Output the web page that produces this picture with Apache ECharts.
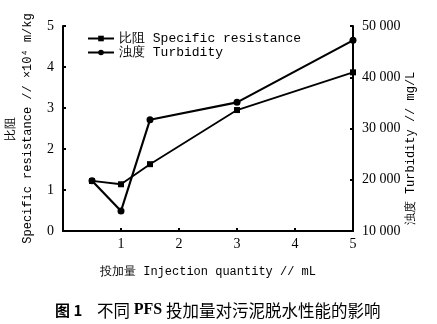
<!DOCTYPE html>
<html><head><meta charset="utf-8">
<script src="https://cdn.jsdelivr.net/npm/echarts@6/dist/echarts.min.js"></script>
<style>html,body{margin:0;padding:0;background:#fff}#c{width:437px;height:324px}</style>
</head><body><div id="c"></div>
<script>
const dose = [0.5, 1, 1.5, 3, 5];
const specificResistance = [1.22, 1.14, 1.63, 2.95, 3.87];
const turbidity = [19800, 13900, 31700, 35100, 47200];
const xTicks = [1, 2, 3, 4, 5];
const leftTicks = [0, 1, 2, 3, 4, 5];
const rightTicks = [10000, 20000, 30000, 40000, 50000];

const mono = "'Liberation Mono', monospace";
const serif = "'Liberation Serif', serif";
const chart = echarts.init(document.getElementById('c'), null, {renderer: 'canvas'});
const fmtK = v => { const s = String(v); return s.slice(0, s.length - 3) + ' ' + s.slice(-3); };

chart.setOption({
  animation: false,
  backgroundColor: '#fff',
  grid: {left: 63, right: 84, top: 26, bottom: 93, containLabel: false, outerBoundsMode: 'none'},
  legend: {
    orient: 'vertical', left: 82, top: 27, itemWidth: 26, itemHeight: 7, itemGap: 1,
    textStyle: {fontFamily: mono, fontSize: 13, color: '#000', lineHeight: 13},
    data: ['比阻 Specific resistance', '浊度 Turbidity']
  },
  xAxis: {
    type: 'value', min: 0, max: 5, interval: 1,
    name: '投加量 Injection quantity // mL', nameLocation: 'middle', nameGap: 35,
    nameTextStyle: {fontFamily: mono, fontSize: 12, color: '#000'},
    axisLine: {show: true, lineStyle: {color: '#000', width: 2}},
    axisTick: {show: true, inside: true, length: 3, lineStyle: {color: '#000', width: 2}},
    axisLabel: {color: '#000', fontFamily: serif, fontSize: 14, margin: 6,
      formatter: v => xTicks.includes(v) ? String(v) : ''},
    splitLine: {show: false}
  },
  yAxis: [{
    type: 'value', min: leftTicks[0], max: leftTicks[leftTicks.length - 1], interval: 1,
    position: 'left',
    name: '比阻\nSpecific resistance // ×10⁴ m/kg', nameLocation: 'middle', nameGap: 27, nameRotate: 90,
    nameMoveOverlap: false,
    nameTextStyle: {fontFamily: mono, fontSize: 12, color: '#000', lineHeight: 17},
    axisLine: {show: true, lineStyle: {color: '#000', width: 2}},
    axisTick: {show: true, inside: true, length: 3, lineStyle: {color: '#000', width: 2}},
    axisLabel: {color: '#000', fontFamily: serif, fontSize: 14, margin: 9},
    splitLine: {show: false}
  }, {
    type: 'value', min: rightTicks[0], max: rightTicks[rightTicks.length - 1], interval: 10000,
    position: 'right',
    name: '浊度 Turbidity // mg/L', nameLocation: 'middle', nameGap: 52, nameRotate: 90,
    nameMoveOverlap: false,
    nameTextStyle: {fontFamily: mono, fontSize: 12, color: '#000', padding: [0, 40, 0, 0]},
    axisLine: {show: true, lineStyle: {color: '#000', width: 2}},
    axisTick: {show: true, inside: true, length: 3, lineStyle: {color: '#000', width: 2}},
    axisLabel: {color: '#000', fontFamily: serif, fontSize: 14, margin: 9, formatter: fmtK},
    splitLine: {show: false}
  }],
  series: [{
    name: '比阻 Specific resistance', type: 'line', yAxisIndex: 0,
    data: dose.map((x, i) => [x, specificResistance[i]]),
    symbol: 'rect', symbolSize: 6,
    lineStyle: {color: '#000', width: 1.8},
    itemStyle: {color: '#000'}
  }, {
    name: '浊度 Turbidity', type: 'line', yAxisIndex: 1,
    data: dose.map((x, i) => [x, turbidity[i]]),
    symbol: 'circle', symbolSize: 7,
    lineStyle: {color: '#000', width: 2.2},
    itemStyle: {color: '#000'}
  }],
  graphic: [{
    type: 'text', left: 55, top: 302,
    style: {
      text: '{b|图 1}{n|    不同 }{p|PFS}{n| 投加量对污泥脱水性能的影响}',
      rich: {
        b: {fontFamily: "'Noto Sans CJK SC'", fontWeight: 'bold', fontSize: 15, fill: '#000'},
        n: {fontFamily: "'Noto Sans CJK SC'", fontSize: 16.5, fill: '#000'},
        p: {fontFamily: serif, fontWeight: 'bold', fontSize: 16, fill: '#000'}
      }
    }
  }]
});
</script></body></html>
